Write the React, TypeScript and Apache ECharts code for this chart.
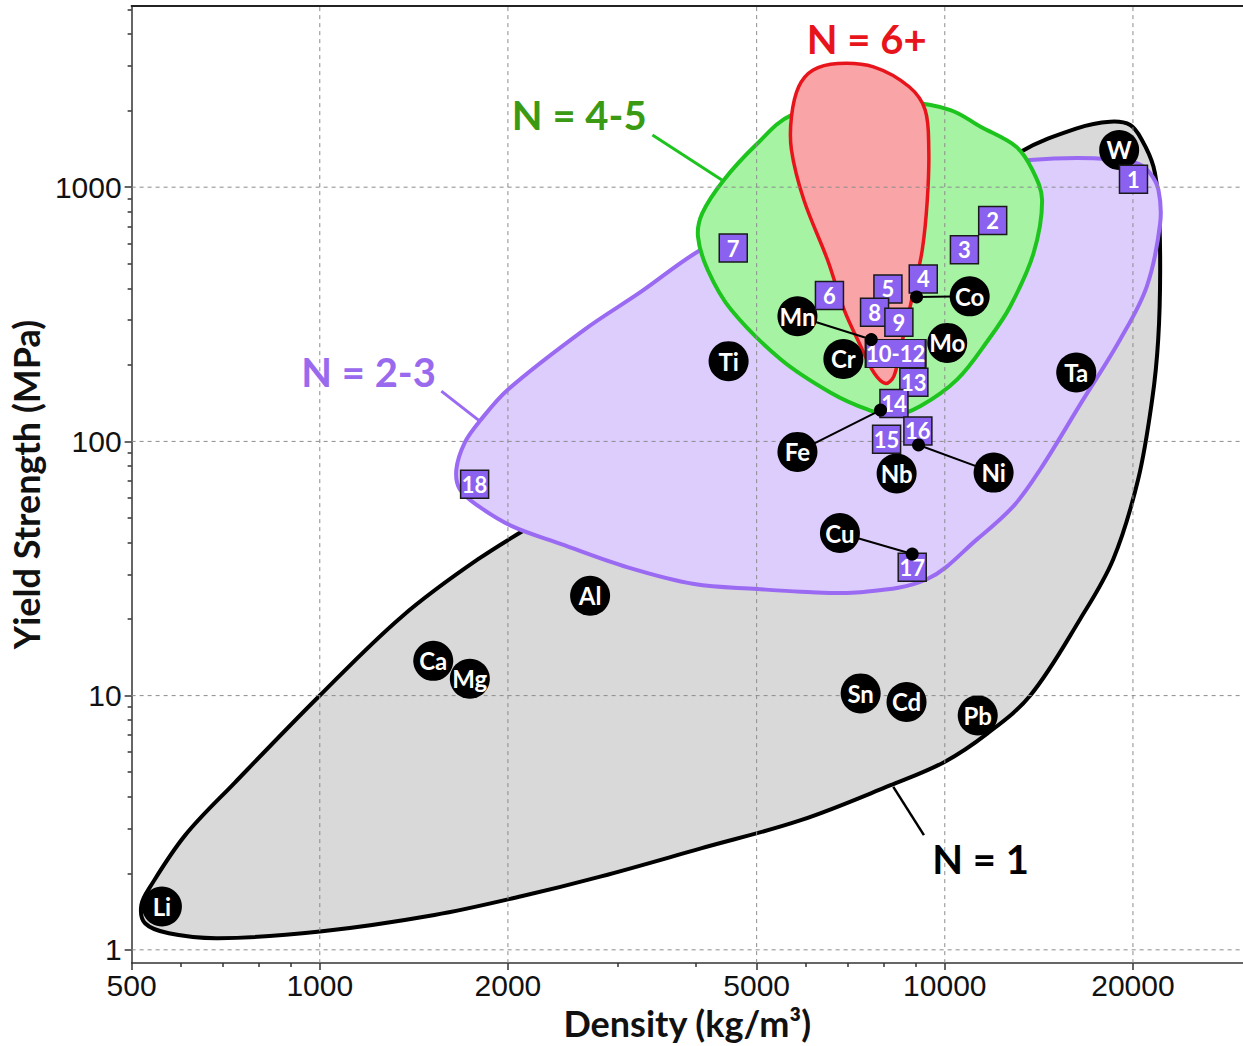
import React, { useEffect, useRef } from 'react';
import * as echarts from 'echarts';

// ---- axes ----
const X_MIN = 500;
const X_MAX = 30000;
const Y_MIN = 0.8867;
const Y_MAX = 5161;
const xTickLabels = [500, 1000, 2000, 5000, 10000, 20000];
const xMinorTicks = [600, 700, 800, 900, 3000, 4000, 6000, 7000, 8000, 9000];
const yTickLabels = [1, 10, 100, 1000];
const yMinorTicks = [2, 3, 4, 5, 6, 7, 8, 9, 20, 30, 40, 50, 60, 70, 80, 90, 200, 300, 400, 500, 600, 700, 800, 900, 2000, 3000, 4000, 5000];
const xGridValues = [1000, 2000, 5000, 10000, 20000];
const yGridValues = [1, 10, 100, 1000];

// ---- regions (density kg/m3, yield strength MPa) ----
const regionNames = ['N = 1', 'N = 2-3', 'N = 4-5', 'N = 6+'];
const outlineN1 = [
  [18390, 1809], [19800, 1756], [20670, 1534], [21570, 1205], [21970, 868], [22110, 473.6], [21950, 251.6],
  [21470, 146.3], [20390, 71.0], [18600, 34.4], [16470, 20.03], [13700, 10.01], [11690, 7.086], [9990, 5.486],
  [8190, 4.441], [5884, 3.236], [4073, 2.506], [2820, 1.945], [2101, 1.624], [1526, 1.371], [1001, 1.18],
  [688.8, 1.111], [573.3, 1.162], [525.3, 1.272], [518.2, 1.501], [535.5, 1.773], [609.2, 2.826], [731.4, 4.549],
  [1000, 10.01], [1351, 20.4], [1792, 34.4], [2434, 55.1], [3516, 101.9], [5467, 229.8], [8498, 542.4],
  [11410, 1021], [13210, 1376], [16270, 1704],
];
const outlineN23 = [
  [1654, 77.7], [1706, 98.9], [1803, 120.2], [2001, 160.1], [2652, 275.4], [3267, 388.2], [3998, 552.3],
  [5078, 757.7], [7069, 975.9], [10210, 1169], [13700, 1280], [17300, 1300], [20290, 1242], [21300, 1135],
  [21970, 975.9], [22110, 722.3], [21050, 407.3], [19080, 251.6], [16470, 139.8], [14220, 77.7], [12890, 55.77],
  [11270, 41.27], [9376, 28.75], [7336, 25.5], [5884, 25.63], [5017, 26.26], [3973, 27.48], [3110, 31.96],
  [2434, 39.45], [2025, 46.55], [1792, 55.77], [1675, 64.85],
];
const outlineN45 = [
  [7069, 2123], [8656, 2162], [10210, 2011], [11410, 1729], [13010, 1443], [13810, 1169], [14310, 891.9],
  [13870, 550.8], [12730, 340], [11750, 251.6], [10470, 175.3], [9146, 137.7], [8291, 126.6], [7518, 133.6],
  [6569, 155.4], [5467, 210], [4548, 330], [4174, 473.6], [4028, 640], [4093, 790.7], [4431, 1068],
  [4986, 1466], [5684, 1922],
];
const outlineN6 = [
  [6742, 3067], [7691, 2974], [8770, 2483], [9303, 2011], [9427, 1401], [9376, 891.9], [9204, 567.5],
  [8923, 395.3], [8710, 301.5], [8498, 234], [8291, 180.6], [8040, 169], [7703, 186.2], [7336, 236.8],
  [6900, 330], [6490, 518.4], [5949, 891.9], [5684, 1401], [5684, 1893], [5837, 2483], [6148, 2886],
];
const regionOutlines = [outlineN1, outlineN23, outlineN45, outlineN6];
const regionFill = ['#d9d9d9', '#dccdfc', '#a6f4a3', '#f9a4a6'];
const regionStroke = ['#000000', '#9a6af2', '#1ec41e', '#e8141c'];

// ---- region annotations ----
const annTextPos = [[11410, 2.268], [1197, 186.7], [2601, 1922], [7499, 3820]];
const annLineStart = [[9260, 2.826], [1565, 157.6], [3406, 1604], null];
const annLineEnd = [[8272, 4.377], [1803, 120.2], [4399, 1068], null];
const annTextColor = ['#000000', '#9a6aee', '#3a9a14', '#e8141c'];
const annLineColor = ['#000000', '#9a6af2', '#1ec41e', '#e8141c'];

// ---- elements (black circles) ----
const elementNames = ['Li', 'Ca', 'Mg', 'Al', 'Ti', 'Sn', 'Cd', 'Pb', 'W', 'Ta', 'Co', 'Mn', 'Mo', 'Cr', 'Fe', 'Nb', 'Ni', 'Cu'];
const elementDensity = [559, 1519, 1738, 2707, 4509, 7335, 8685, 11290, 19010, 16230, 10960, 5811, 10090, 6882, 5811, 8374, 11970, 6796];
const elementStrength = [1.48, 13.7, 11.65, 24.7, 206.8, 10.2, 9.44, 8.36, 1401, 186.7, 372, 310.7, 244, 211, 90.9, 74.76, 75.4, 43.6];

// ---- element markers with leader lines ----
const markerElement = ['Co', 'Mn', 'Fe', 'Ni', 'Cu'];
const markerDensity = [9012, 7627, 7893, 9078, 8869];
const markerStrength = [370, 251.6, 132.8, 96.8, 36.06];

// ---- numbered alloys (purple squares) ----
const alloyLabels = ['1', '2', '3', '4', '5', '6', '7', '8', '9', '10-12', '13', '14', '15', '16', '17', '18'];
const alloyDensity = [20040, 11930, 10750, 9237, 8110, 6538, 4587, 7720, 8444, 8344, 8923, 8292, 8070, 9056, 8869, 1769];
const alloyStrength = [1075, 739.6, 567.5, 435.5, 397.8, 374.5, 576.3, 322, 294, 221.7, 171, 141.1, 101.9, 109.9, 31.97, 67.86];

const LABEL_FONT = 'Lato, "Open Sans", sans-serif';
const TICK_FONT = '"Liberation Sans", Arial, sans-serif';

function App() {
  const ref = useRef<HTMLDivElement>(null);

  useEffect(() => {
    if (!ref.current) return;
    const chart = echarts.init(ref.current, undefined, { renderer: 'svg' });
    const fmt = (v: number) => String(Math.round(v));
    const tickLine = { color: '#333', width: 1.5 };

    const gridData = [
      ...xGridValues.map((v) => [v, Y_MIN * 1.5, 0]),
      ...yGridValues.map((v) => [X_MIN * 1.5, v, 1]),
    ];

    const option: any = {
      animation: false,
      backgroundColor: '#ffffff',
      grid: { left: 129, right: 0, top: 6, bottom: 81, containLabel: false },
      xAxis: [
        {
          type: 'log', logBase: 10, min: X_MIN, max: X_MAX, position: 'bottom',
          name: 'Density (kg/m³)', nameLocation: 'middle', nameGap: 40,
          nameTextStyle: { fontFamily: LABEL_FONT, fontWeight: 'bold', fontSize: 36, color: '#111' },
          axisLine: { show: true, onZero: false, lineStyle: tickLine },
          axisTick: { show: true, customValues: xTickLabels, length: 7, lineStyle: tickLine },
          axisLabel: { show: true, customValues: xTickLabels, formatter: fmt, fontSize: 30, fontFamily: TICK_FONT, color: '#111', margin: 7 },
          splitLine: { show: false }, minorTick: { show: false },
        },
        {
          type: 'log', logBase: 10, min: X_MIN, max: X_MAX, position: 'bottom',
          axisLine: { show: false, onZero: false },
          axisTick: { show: true, customValues: xMinorTicks, length: 4, lineStyle: tickLine },
          axisLabel: { show: false }, splitLine: { show: false },
        },
        {
          type: 'log', logBase: 10, min: X_MIN, max: X_MAX, position: 'top',
          axisLine: { show: true, onZero: false, lineStyle: { color: '#222', width: 2 } },
          axisTick: { show: false }, axisLabel: { show: false }, splitLine: { show: false },
        },
      ],
      yAxis: [
        {
          type: 'log', logBase: 10, min: Y_MIN, max: Y_MAX, position: 'left',
          name: 'Yield Strength (MPa)', nameLocation: 'middle', nameGap: 78,
          nameTextStyle: { fontFamily: LABEL_FONT, fontWeight: 'bold', fontSize: 36, color: '#111' },
          axisLine: { show: true, onZero: false, lineStyle: tickLine },
          axisTick: { show: true, customValues: yTickLabels, length: 7, lineStyle: tickLine },
          axisLabel: { show: true, customValues: yTickLabels, formatter: fmt, fontSize: 30, fontFamily: TICK_FONT, color: '#111', margin: 10 },
          splitLine: { show: false }, minorTick: { show: false },
        },
        {
          type: 'log', logBase: 10, min: Y_MIN, max: Y_MAX, position: 'left',
          axisLine: { show: false, onZero: false },
          axisTick: { show: true, customValues: yMinorTicks, length: 4, lineStyle: tickLine },
          axisLabel: { show: false }, splitLine: { show: false },
        },
      ],
      series: [
        {
          type: 'custom', name: 'regions', xAxisIndex: 0, yAxisIndex: 0, z: 1, silent: true,
          data: regionOutlines.map((o, i) => [o[0][0], o[0][1], i]),
          encode: { x: 0, y: 1 },
          renderItem: (params: any, api: any) => {
            const i = params.dataIndex;
            const pts = regionOutlines[i].map((p) => api.coord(p));
            return {
              type: 'polygon',
              shape: { points: pts, smooth: 0.35 },
              style: { fill: regionFill[i], stroke: regionStroke[i], lineWidth: i === 3 ? 3.5 : 4 },
            };
          },
        },
        {
          type: 'custom', name: 'grid', xAxisIndex: 0, yAxisIndex: 0, z: 2, silent: true,
          data: gridData, encode: { x: 0, y: 1 },
          renderItem: (params: any, api: any) => {
            const d = gridData[params.dataIndex];
            let p1, p2;
            if (d[2] === 0) {
              p1 = api.coord([d[0], Y_MIN]);
              p2 = api.coord([d[0], Y_MAX]);
            } else {
              p1 = api.coord([X_MIN, d[1]]);
              p2 = api.coord([X_MAX, d[1]]);
            }
            return {
              type: 'line',
              shape: { x1: p1[0], y1: p1[1], x2: p2[0], y2: p2[1] },
              style: { stroke: '#8c8c8c', lineWidth: 1, lineDash: [4, 4] },
            };
          },
        },
        {
          type: 'custom', name: 'leaders', xAxisIndex: 0, yAxisIndex: 0, z: 3, silent: true,
          data: markerElement.map((_, i) => [markerDensity[i], markerStrength[i]]),
          encode: { x: 0, y: 1 },
          renderItem: (params: any, api: any) => {
            const i = params.dataIndex;
            const k = elementNames.indexOf(markerElement[i]);
            const a = api.coord([elementDensity[k], elementStrength[k]]);
            const b = api.coord([markerDensity[i], markerStrength[i]]);
            return {
              type: 'line',
              shape: { x1: a[0], y1: a[1], x2: b[0], y2: b[1] },
              style: { stroke: '#000', lineWidth: 2 },
            };
          },
        },
        {
          type: 'scatter', name: 'elements', xAxisIndex: 0, yAxisIndex: 0, z: 4, silent: true,
          symbol: 'circle', symbolSize: 40,
          itemStyle: { color: '#000000', opacity: 1 },
          label: {
            show: true, position: 'inside', formatter: '{b}', color: '#ffffff',
            fontFamily: LABEL_FONT, fontWeight: 'bold', fontSize: 24, textBorderWidth: 0,
          },
          data: elementNames.map((n, i) => ({ name: n, value: [elementDensity[i], elementStrength[i]] })),
        },
        {
          type: 'scatter', name: 'alloys', xAxisIndex: 0, yAxisIndex: 0, z: 5, silent: true,
          symbol: 'rect',
          symbolSize: (_v: any, p: any) => (p.name === '10-12' ? [60, 28] : [28, 28]),
          itemStyle: { color: '#8b62f0', borderColor: '#1a1a1a', borderWidth: 1.5, opacity: 1 },
          label: {
            show: true, position: 'inside', formatter: '{b}', color: '#ffffff',
            fontFamily: LABEL_FONT, fontWeight: 'bold', fontSize: 22, textBorderWidth: 0,
          },
          data: alloyLabels.map((n, i) => ({ name: n, value: [alloyDensity[i], alloyStrength[i]] })),
        },
        {
          type: 'scatter', name: 'markers', xAxisIndex: 0, yAxisIndex: 0, z: 6, silent: true,
          symbol: 'circle', symbolSize: 13,
          itemStyle: { color: '#000000', opacity: 1 },
          data: markerElement.map((n, i) => ({ name: n, value: [markerDensity[i], markerStrength[i]] })),
        },
        {
          type: 'custom', name: 'annotations', xAxisIndex: 0, yAxisIndex: 0, z: 7, silent: true,
          data: annTextPos.map((p, i) => [p[0], p[1], i]),
          encode: { x: 0, y: 1 },
          renderItem: (params: any, api: any) => {
            const i = params.dataIndex;
            const c = api.coord(annTextPos[i]);
            const children: any[] = [];
            const s = annLineStart[i];
            const e = annLineEnd[i];
            if (s && e) {
              const a = api.coord(s);
              const b = api.coord(e);
              children.push({
                type: 'line',
                shape: { x1: a[0], y1: a[1], x2: b[0], y2: b[1] },
                style: { stroke: annLineColor[i], lineWidth: i === 0 ? 2.5 : 3 },
              });
            }
            children.push({
              type: 'text', x: c[0], y: c[1],
              style: {
                text: regionNames[i], fill: annTextColor[i], fontFamily: LABEL_FONT,
                fontWeight: 'bold', fontSize: 40, align: 'center', verticalAlign: 'middle',
              },
            });
            return { type: 'group', children };
          },
        },
      ],
    };

    chart.setOption(option);
    return () => chart.dispose();
  }, []);

  return <div ref={ref} style={{ position: 'absolute', left: 0, top: 0, width: 1243, height: 1046 }} />;
}

export default App;
